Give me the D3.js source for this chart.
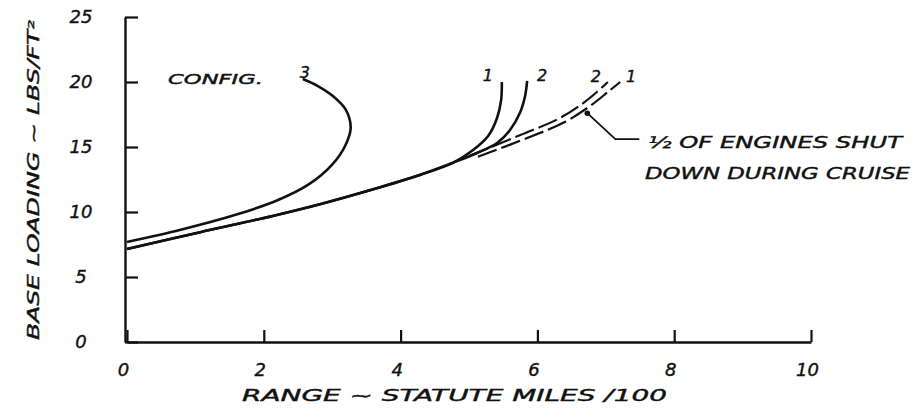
<!DOCTYPE html>
<html>
<head>
<meta charset="utf-8">
<script src="https://cdn.jsdelivr.net/npm/d3@7"></script>
<style>
  body { margin: 0; background: #fff; }
  text { font-family: "DejaVu Sans", sans-serif; font-style: italic; fill: #111; stroke: #111; stroke-width: 0.4; }
</style>
</head>
<body>
<div id="chart"></div>
<script>
// tick labels
const xTicks = [0, 2, 4, 6, 8, 10];
const yTicks = [0, 5, 10, 15, 20, 25];

// [range (statute miles/100), base loading (lbs/ft^2)]
const config3 = [[0, 7.69], [0.8, 8.65], [1.6, 9.8], [2.2, 10.9], [2.65, 12.1], [3.0, 13.65],
  [3.19, 15.1], [3.27, 16.46], [3.2, 17.85], [3.01, 18.92], [2.79, 19.69], [2.57, 20.23]];
const trunk = [[0, 7.15], [1.07, 8.45], [2.13, 9.7], [2.82, 10.6], [3.6, 11.75], [4.28, 12.85], [4.77, 13.8]];
const config1Branch = [[5.06, 14.77], [5.28, 15.85], [5.41, 17.23], [5.47, 18.62], [5.48, 20.0]];
const config2Branch = [[5.12, 14.54], [5.41, 15.31], [5.6, 16.31], [5.75, 17.69], [5.82, 18.92], [5.85, 20.08]];
const config2Half = [[5.0, 14.3], [5.75, 15.92], [6.33, 17.23], [6.67, 18.38], [6.87, 19.23], [7.03, 20.0]];
const config1Half = [[5.13, 14.25], [5.85, 15.69], [6.4, 16.92], [6.77, 18.15], [7.03, 19.23], [7.21, 20.0]];

const config1 = trunk.concat(config1Branch);
const config2 = trunk.concat(config2Branch);

function main() {
    const width = 916, height = 417;

    const svg = d3.select("#chart").append("svg")
        .attr("width", width)
        .attr("height", height);

    const x = d3.scaleLinear().domain([0, 10]).range([127, 811]);
    const y = d3.scaleLinear().domain([0, 25]).range([342, 17]);

    // axes, ticks pointing inwards
    const xAxis = svg.append("g")
        .attr("transform", `translate(0,${y(0)})`)
        .call(d3.axisBottom(x).tickValues(xTicks).tickSizeInner(-12).tickSizeOuter(0).tickPadding(20));
    const yAxis = svg.append("g")
        .attr("transform", `translate(${x(0) - 2},0)`)
        .call(d3.axisLeft(y).tickValues(yTicks).tickSizeInner(-13).tickSizeOuter(0).tickPadding(45));

    [xAxis, yAxis].forEach(g => {
        g.select(".domain").attr("stroke", "#111").attr("stroke-width", 2.4);
        g.selectAll(".tick line").attr("stroke", "#111").attr("stroke-width", 2.2);
        g.selectAll(".tick text").attr("font-size", 18).attr("fill", "#111")
            .style("font-family", "'DejaVu Sans', sans-serif").style("font-style", "italic");
    });
    xAxis.selectAll(".tick text").attr("dx", -4).attr("y", 21);
    yAxis.selectAll(".tick text").attr("text-anchor", "middle").attr("x", -44);

    const line = d3.line()
        .x(d => x(d[0]))
        .y(d => y(d[1]))
        .curve(d3.curveCatmullRom.alpha(0.5));

    const solid = [config3, config1, config2];
    svg.append("g").selectAll("path")
        .data(solid)
        .enter().append("path")
        .attr("d", line)
        .attr("fill", "none")
        .attr("stroke", "#111")
        .attr("stroke-width", 2.6);

    const dashed = [config2Half, config1Half];
    svg.append("g").selectAll("path")
        .data(dashed)
        .enter().append("path")
        .attr("d", line)
        .attr("fill", "none")
        .attr("stroke", "#111")
        .attr("stroke-width", 2.2)
        .attr("stroke-dasharray", "20,5");

    // curve labels at the upper end of each curve
    const labels = [
        { s: config3, t: "3", dx: 2, dy: -1 },
        { s: config1, t: "1", dx: -14, dy: -1 },
        { s: config2, t: "2", dx: 15, dy: 0 },
        { s: config2Half, t: "2", dx: -12, dy: 0 },
        { s: config1Half, t: "1", dx: 11, dy: 0 }
    ];
    svg.append("g").selectAll("text")
        .data(labels)
        .enter().append("text")
        .attr("x", d => x(d.s[d.s.length - 1][0]) + d.dx)
        .attr("y", d => y(d.s[d.s.length - 1][1]) + d.dy)
        .attr("text-anchor", "middle")
        .attr("font-size", 16)
        .text(d => d.t);

    svg.append("text")
        .attr("x", 168).attr("y", 84)
        .attr("font-size", 14)
        .attr("textLength", 95).attr("lengthAdjust", "spacingAndGlyphs")
        .text("CONFIG.");

    // annotation for the dashed curves
    const anchor = [x(6.73), y(17.6)];
    svg.append("circle")
        .attr("cx", anchor[0]).attr("cy", anchor[1]).attr("r", 2.8).attr("fill", "#111");
    svg.append("path")
        .attr("d", `M${anchor[0]},${anchor[1]} L${anchor[0] + 28},${anchor[1] + 26} L${anchor[0] + 52},${anchor[1] + 26}`)
        .attr("fill", "none").attr("stroke", "#111").attr("stroke-width", 1.8);

    svg.append("text")
        .attr("x", 648).attr("y", 148)
        .attr("font-size", 15)
        .attr("textLength", 254).attr("lengthAdjust", "spacingAndGlyphs")
        .text("½ OF ENGINES SHUT");
    svg.append("text")
        .attr("x", 645).attr("y", 179)
        .attr("font-size", 15)
        .attr("textLength", 265).attr("lengthAdjust", "spacingAndGlyphs")
        .text("DOWN DURING CRUISE");

    // axis titles
    svg.append("text")
        .attr("x", 242).attr("y", 401)
        .attr("font-size", 16)
        .attr("textLength", 425).attr("lengthAdjust", "spacingAndGlyphs")
        .text("RANGE ~ STATUTE MILES /100");

    svg.append("text")
        .attr("transform", "translate(39,340) rotate(-90)")
        .attr("font-size", 16)
        .attr("textLength", 320).attr("lengthAdjust", "spacingAndGlyphs")
        .text("BASE LOADING ~ LBS/FT²");
}
main();
</script>
</body>
</html>
